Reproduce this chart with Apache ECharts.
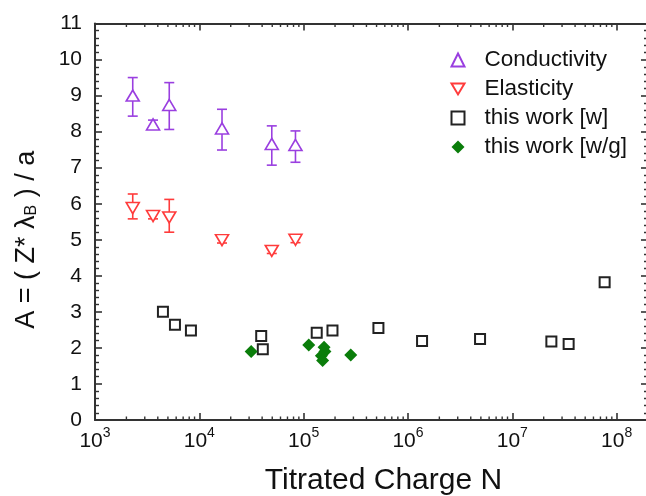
<!DOCTYPE html>
<html><head><meta charset="utf-8">
<script src="https://cdn.jsdelivr.net/npm/echarts@6/dist/echarts.min.js"></script>
<style>html,body{margin:0;padding:0;background:#fff}#c{width:646px;height:496px}</style>
</head><body><div id="c"></div>
<script>
const condN  = [2300, 3600, 5150, 16500, 49500, 83500];
const condA  = [9.0, 8.2, 8.74, 8.09, 7.66, 7.63];
const condHi = [9.5, 8.32, 9.36, 8.62, 8.16, 8.02];
const condLo = [8.43, 8.08, 8.06, 7.49, 7.07, 7.15];

const elasN  = [2300, 3600, 5150, 16500, 49500, 83500];
const elasA  = [5.88, 5.66, 5.62, 4.99, 4.69, 5.0];
const elasHi = [6.27, 5.74, 6.12, 5.07, 4.76, 5.08];
const elasLo = [5.58, 5.58, 5.21, 4.91, 4.62, 4.92];

const wN = [4480, 5840, 8310, 39200, 40600, 133500, 189000, 521000, 1.365e6, 4.91e6, 2.37e7, 3.47e7, 7.68e7];
const wA = [3.0, 2.64, 2.48, 2.33, 1.96, 2.42, 2.48, 2.55, 2.19, 2.25, 2.18, 2.11, 3.82];

const wgN = [31400, 112000, 157000, 160000, 148000, 152000, 283000];
const wgA = [1.9, 2.08, 2.02, 1.9, 1.78, 1.65, 1.8];

const xMin = 1e3, xMax = 2e8, yMin = 0, yMax = 11;
const minorMantissas = [2,3,4,5,6,7,8,9];
const decades = [1e3,1e4,1e5,1e6,1e7,1e8];

const PURPLE = '#9a3fe0', RED = '#ff3b3b', GREEN = '#0a7d0a', DARK = '#222';
const FONT = 'Liberation Sans, Arial';

const minorTicks = [];
decades.forEach(d => minorMantissas.forEach(m => { if (d*m < xMax) minorTicks.push([d*m, 0]); }));

function pairs(xs, ys){ return xs.map((x,i)=>[x, ys[i]]); }
function errData(xs, lo, hi){ return xs.map((x,i)=>[x, lo[i], hi[i]]); }

function errRender(color){
  return function(params, api){
    const x = api.value(0), lo = api.value(1), hi = api.value(2);
    const p1 = api.coord([x, lo]), p2 = api.coord([x, hi]);
    const cw = 5;
    return {type:'group', children:[
      {type:'line', shape:{x1:p1[0], y1:p1[1], x2:p2[0], y2:p2[1]}, style:{stroke:color, lineWidth:1.6}},
      {type:'line', shape:{x1:p1[0]-cw, y1:p1[1], x2:p1[0]+cw, y2:p1[1]}, style:{stroke:color, lineWidth:1.6}},
      {type:'line', shape:{x1:p2[0]-cw, y1:p2[1], x2:p2[0]+cw, y2:p2[1]}, style:{stroke:color, lineWidth:1.6}}
    ]};
  };
}

function minorRender(params, api){
  const v = api.value(0);
  const b = api.coord([v, yMin]), t = api.coord([v, yMax]);
  const L = 3.5;
  return {type:'group', children:[
    {type:'line', shape:{x1:b[0], y1:b[1], x2:b[0], y2:b[1]-L}, style:{stroke:'#333', lineWidth:1.4}},
    {type:'line', shape:{x1:t[0], y1:t[1], x2:t[0], y2:t[1]+L}, style:{stroke:'#333', lineWidth:1.4}}
  ]};
}

const axisLineStyle = {color:'#333', width:2};
const chart = echarts.init(document.getElementById('c'));
chart.setOption({
  animation:false,
  backgroundColor:'#fff',
  grid:{left:95, top:23.5, width:553, height:396.5, containLabel:false, outerBoundsMode:'none'},
  xAxis:[{
    type:'log', logBase:10, min:xMin, max:xMax, position:'bottom',
    name:'Titrated Charge N', nameLocation:'middle', nameGap:46,
    nameTextStyle:{fontFamily:FONT, fontSize:30, color:'#111', padding:[0,0,0,24]},
    axisLine:{show:true, onZero:false, lineStyle:axisLineStyle},
    axisTick:{show:true, inside:true, length:7, lineStyle:{color:'#333', width:1.6}},
    splitLine:{show:false},
    axisLabel:{showMaxLabel:false, margin:6, fontFamily:FONT, color:'#111',
      formatter:function(v){ const e = Math.round(Math.log10(v)); if (Math.abs(Math.log10(v)-e) > 1e-6) return ''; return '{b|10}{s|' + e + '}'; },
      rich:{b:{fontSize:21, lineHeight:26, verticalAlign:'bottom', fontFamily:FONT, color:'#111'},
            s:{fontSize:14, lineHeight:14, verticalAlign:'top', fontFamily:FONT, color:'#111'}}}
  },{
    type:'log', logBase:10, min:xMin, max:xMax, position:'top',
    axisLine:{show:true, onZero:false, lineStyle:axisLineStyle},
    axisTick:{show:true, inside:true, length:7, lineStyle:{color:'#333', width:1.6}},
    axisLabel:{show:false}, splitLine:{show:false}
  }],
  yAxis:[{
    type:'value', min:yMin, max:yMax, interval:1, position:'left',
    name:'A = ( Z* λ{sub|B} ) / a', nameLocation:'middle', nameGap:55, nameRotate:90,
    nameTextStyle:{fontFamily:FONT, fontSize:27, color:'#111', padding:[0,36,0,0],
      rich:{sub:{fontSize:16, fontFamily:FONT, color:'#111', verticalAlign:'bottom', lineHeight:12, padding:[12,0,0,0]}}},
    axisLine:{show:true, onZero:false, lineStyle:axisLineStyle},
    axisTick:{show:true, inside:true, length:7, lineStyle:{color:'#333', width:1.6}},
    minorTick:{show:true, splitNumber:5, length:4, lineStyle:{color:'#333', width:1.4}},
    splitLine:{show:false}, minorSplitLine:{show:false},
    axisLabel:{margin:13, fontSize:21, fontFamily:FONT, color:'#111'}
  },{
    type:'value', min:yMin, max:yMax, interval:1, position:'right',
    axisLine:{show:true, onZero:false, lineStyle:axisLineStyle},
    axisTick:{show:true, inside:true, length:7, lineStyle:{color:'#333', width:1.6}},
    minorTick:{show:true, splitNumber:5, length:4, lineStyle:{color:'#333', width:1.4}},
    splitLine:{show:false}, axisLabel:{show:false}
  }],
  legend:{
    orient:'vertical', left:445.5, top:43.5, itemWidth:13, itemHeight:13, itemGap:6,
    data:[
      {name:'Conductivity'},
      {name:'Elasticity', icon:'path://M0,0 L12,0 L6,10 Z'},
      {name:'this work [w]'},
      {name:'this work [w/g]', icon:'path://M6,0 L12,6 L6,12 L0,6 Z'}
    ],
    textStyle:{fontFamily:FONT, fontSize:22.5, color:'#111', lineHeight:22, padding:[0,0,0,15]}
  },
  series:[
    {type:'custom', name:'minorx', silent:true, coordinateSystem:'cartesian2d', renderItem:minorRender, data:minorTicks, z:1},
    {type:'custom', name:'condErr', coordinateSystem:'cartesian2d', renderItem:errRender(PURPLE), data:errData(condN, condLo, condHi), z:2},
    {type:'custom', name:'elasErr', coordinateSystem:'cartesian2d', renderItem:errRender(RED), data:errData(elasN, elasLo, elasHi), z:2},
    {type:'scatter', name:'Conductivity', data:pairs(condN, condA), symbol:'triangle', symbolSize:[13,11], z:3,
      itemStyle:{color:'#fff', borderColor:PURPLE, borderWidth:1.6, opacity:1}},
    {type:'scatter', name:'Elasticity', data:pairs(elasN, elasA), symbol:'triangle', symbolRotate:180, symbolSize:[13,11], z:3,
      itemStyle:{color:'#fff', borderColor:RED, borderWidth:1.6, opacity:1}},
    {type:'scatter', name:'this work [w]', data:pairs(wN, wA), symbol:'rect', symbolSize:10, z:3,
      itemStyle:{color:'#fff', borderColor:DARK, borderWidth:2, opacity:1}},
    {type:'scatter', name:'this work [w/g]', data:pairs(wgN, wgA), symbol:'diamond', symbolSize:13, z:4,
      itemStyle:{color:GREEN, opacity:1}}
  ]
});
</script></body></html>
